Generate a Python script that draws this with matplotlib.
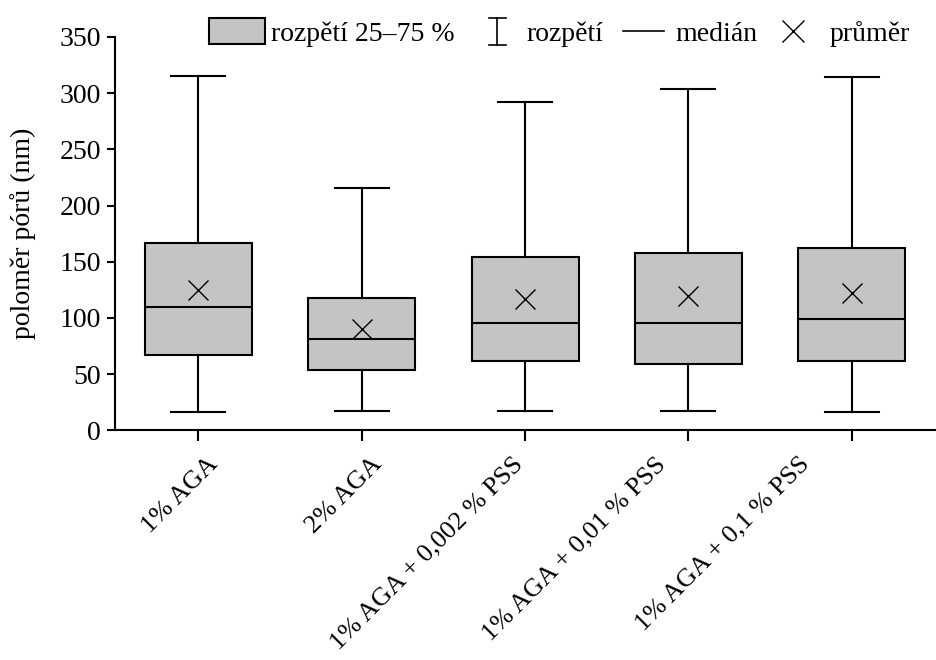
import matplotlib
matplotlib.use("Agg")
import matplotlib.pyplot as plt
from matplotlib.patches import Patch
from matplotlib.lines import Line2D
from matplotlib.legend_handler import HandlerBase

plt.rcParams['font.family'] = ['Liberation Serif', 'DejaVu Serif']

# ── data ─────────────────────────────────────────────────
categories = ['1% AGA', '2% AGA', '1% AGA + 0,002 % PSS',
              '1% AGA + 0,01 % PSS', '1% AGA + 0,1 % PSS']
whisk_low = [16.6, 16.9, 16.9, 16.9, 16.3]
q1 = [66.7, 53.4, 61.4, 59.0, 61.4]
median = [109.7, 81.6, 95.5, 95.5, 99.4]
q3 = [166.4, 117.7, 154.2, 157.5, 162.2]
whisk_high = [315.6, 215.3, 292.4, 304.0, 314.0]
mean = [125.2, 90.1, 116.8, 119.8, 122.5]

yticks = [0, 50, 100, 150, 200, 250, 300, 350]

FILL = '#c4c4c4'
LW = 1.5
FS = 20
# horizontal nudge (points) of each rotated category label, as in the source
label_dx = [8, 8, -8, -23, -37]


class RangeHandler(HandlerBase):
    """I-shaped whisker symbol."""
    def create_artists(self, legend, orig_handle, xdescent, ydescent,
                       width, height, fontsize, trans):
        cx = width * 0.58 - xdescent
        y0 = -ydescent - height * 0.02
        y1 = height * 1.0 - ydescent
        cap = width * 0.15
        kw = dict(color='black', lw=1.2, transform=trans)
        return [Line2D([cx, cx], [y0, y1], **kw),
                Line2D([cx - cap, cx + cap], [y0, y0], **kw),
                Line2D([cx - cap, cx + cap], [y1, y1], **kw)]


class ShortLineHandler(HandlerBase):
    """Median line, a bit shorter than the handle box."""
    def create_artists(self, legend, orig_handle, xdescent, ydescent,
                       width, height, fontsize, trans):
        y = height / 2 - ydescent
        return [Line2D([width * 0.15 - xdescent, width * 0.9 - xdescent], [y, y],
                       color='black', lw=1.2, transform=trans)]


class CrossHandler(HandlerBase):
    """Mean marker, sitting left of the box centre."""
    def create_artists(self, legend, orig_handle, xdescent, ydescent,
                       width, height, fontsize, trans):
        y = height / 2 - ydescent
        return [Line2D([width * 0.44 - xdescent], [y], marker='x', linestyle='none',
                       color='black', markersize=16, markeredgewidth=1.0,
                       transform=trans)]


class RangeKey: pass
class MedianKey: pass
class MeanKey: pass


def build_stats():
    stats = []
    for i in range(len(categories)):
        stats.append(dict(med=median[i], q1=q1[i], q3=q3[i],
                          whislo=whisk_low[i], whishi=whisk_high[i],
                          mean=mean[i], fliers=[], label=categories[i]))
    return stats


fig = plt.figure(figsize=(9.36, 6.6), dpi=100)
ax = fig.add_axes([0.123, 0.348, 0.876, 0.596])

ax.bxp(build_stats(), positions=range(len(categories)), widths=0.655,
       patch_artist=True, showmeans=True, showfliers=False,
       boxprops=dict(facecolor=FILL, edgecolor='black', linewidth=LW),
       medianprops=dict(color='black', linewidth=LW),
       whiskerprops=dict(color='black', linewidth=LW),
       capprops=dict(color='black', linewidth=LW),
       capwidths=0.33,
       meanprops=dict(marker='x', markeredgecolor='black', markersize=14,
                      markeredgewidth=1.0))

ax.set_xlim(-0.51, 4.51)
ax.set_ylim(0, 350)
ax.set_yticks(yticks)
ax.tick_params(axis='y', labelsize=FS, width=LW, length=6, direction='out', pad=4)
ax.tick_params(axis='x', width=LW, length=8, direction='out')
ax.set_xticks(range(len(categories)))
ax.set_xticklabels([])
for i, name in enumerate(categories):
    ax.annotate(name, xy=(i, 0), xycoords=('data', 'axes fraction'),
                xytext=(label_dx[i] + 4, -22), textcoords='offset points',
                rotation=45, ha='right', va='center', rotation_mode='anchor',
                fontsize=FS - 1)
for s in ['top', 'right']:
    ax.spines[s].set_visible(False)
for s in ['left', 'bottom']:
    ax.spines[s].set_linewidth(LW)

ax.set_ylabel('poloměr pórů (nm)', fontsize=FS, labelpad=17)

handles = [Patch(facecolor=FILL, edgecolor='black', linewidth=LW),
           RangeKey(), MedianKey(), MeanKey()]
labels = ['rozpětí 25–75 %', 'rozpětí', 'medián', 'průměr']
ax.legend(handles, labels,
          handler_map={RangeKey: RangeHandler(), MedianKey: ShortLineHandler(),
                       MeanKey: CrossHandler()},
          ncol=4, loc='upper right', bbox_to_anchor=(0.99, 1.09),
          frameon=False, fontsize=FS, handlelength=2.0, handleheight=1.05,
          columnspacing=0.4, handletextpad=0.2, borderaxespad=0.2)

plt.savefig('out.png', dpi=100)
